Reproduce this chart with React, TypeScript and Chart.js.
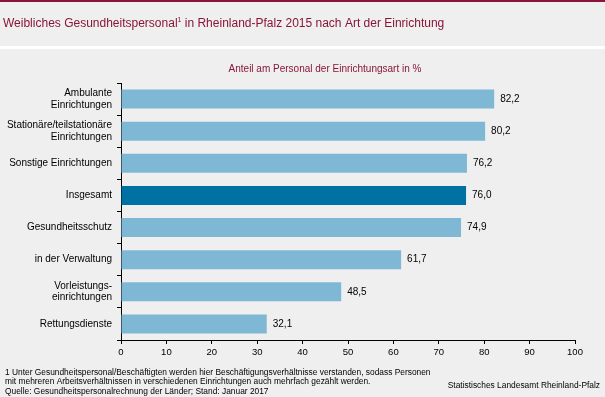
import React, { useEffect, useRef } from "react";
import { Chart, registerables } from "chart.js";

Chart.register(...registerables);

const categories: (string | string[])[] = [
  ["Ambulante", "Einrichtungen"],
  ["Stationäre/teilstationäre", "Einrichtungen"],
  "Sonstige Einrichtungen",
  "Insgesamt",
  "Gesundheitsschutz",
  "in der Verwaltung",
  ["Vorleistungs-", "einrichtungen"],
  "Rettungsdienste",
];
const values = [82.2, 80.2, 76.2, 76.0, 74.9, 61.7, 48.5, 32.1];
const highlight = [false, false, false, true, false, false, false, false];

const titleMain = "Weibliches Gesundheitspersonal";
const titleSup = "1";
const titleRest = " in Rheinland-Pfalz 2015 nach Art der Einrichtung";
const subtitle = "Anteil am Personal der Einrichtungsart in %";
const footnotes = [
  "1 Unter Gesundheitspersonal/Beschäftigten werden hier Beschäftigungsverhältnisse verstanden, sodass Personen",
  "mit mehreren Arbeitsverhältnissen in verschiedenen Einrichtungen auch mehrfach gezählt werden.",
  "Quelle: Gesundheitspersonalrechnung der Länder; Stand: Januar 2017",
];
const credit = "Statistisches Landesamt Rheinland-Pfalz";

const FONT = "Arial, 'Liberation Sans', sans-serif";
const RED = "#8a1538";
const BG = "#eeefee";
const LIGHT = "#7fb8d4";
const DARK = "#0071a3";

const decor = {
  id: "decor",
  beforeDraw(chart: any) {
    const ctx = chart.ctx;
    const w = chart.width;
    const h = chart.height;
    ctx.save();
    ctx.fillStyle = "#ffffff";
    ctx.fillRect(0, 0, w, h);
    ctx.fillStyle = BG;
    ctx.fillRect(0, 0, w, 46);
    ctx.fillRect(0, 49, w, h - 49);
    ctx.fillStyle = RED;
    ctx.fillRect(0, 0, w, 2);
    // title
    ctx.fillStyle = RED;
    ctx.textBaseline = "alphabetic";
    ctx.textAlign = "left";
    ctx.font = `12px ${FONT}`;
    let x = 3;
    ctx.fillText(titleMain, x, 27);
    x += ctx.measureText(titleMain).width;
    ctx.font = `7px ${FONT}`;
    ctx.fillText(titleSup, x, 22);
    x += ctx.measureText(titleSup).width;
    ctx.font = `12px ${FONT}`;
    ctx.fillText(titleRest, x, 27);
    // subtitle
    ctx.font = `10px ${FONT}`;
    ctx.textAlign = "center";
    ctx.textBaseline = "middle";
    ctx.fillText(subtitle, 325, 69);
    // footnotes
    ctx.fillStyle = "#000000";
    ctx.font = `8.4px ${FONT}`;
    ctx.textAlign = "left";
    const ys = [373, 382, 392];
    footnotes.forEach((t, i) => ctx.fillText(t, 5, ys[i]));
    ctx.textAlign = "right";
    ctx.fillText(credit, 600, 386);
    ctx.restore();
  },
  afterDatasetsDraw(chart: any) {
    const ctx = chart.ctx;
    const meta = chart.getDatasetMeta(0);
    ctx.save();
    ctx.fillStyle = "#000000";
    ctx.font = `10px ${FONT}`;
    ctx.textAlign = "left";
    ctx.textBaseline = "middle";
    meta.data.forEach((bar: any, i: number) => {
      const v = values[i].toFixed(1).replace(".", ",");
      ctx.fillText(v, bar.x + 6, bar.y);
    });
    ctx.restore();
  },
};

export default function App() {
  const ref = useRef<HTMLCanvasElement>(null);
  useEffect(() => {
    const chart = new Chart(ref.current!, {
      type: "bar",
      data: {
        labels: categories,
        datasets: [
          {
            data: values,
            backgroundColor: highlight.map((h) => (h ? DARK : LIGHT)),
            barPercentage: 0.59,
            categoryPercentage: 1,
            borderWidth: 0,
          },
        ],
      },
      options: {
        indexAxis: "y",
        animation: false,
        responsive: false,
        maintainAspectRatio: false,
        devicePixelRatio: 1,
        layout: { padding: { top: 83, right: 30, left: 0, bottom: 0 } },
        plugins: {
          legend: { display: false },
          tooltip: { enabled: false },
          title: { display: false },
        },
        scales: {
          x: {
            min: 0,
            max: 100,
            afterFit(scale: any) {
              scale.height = 57;
            },
            ticks: {
              stepSize: 10,
              color: "#000000",
              font: { family: FONT, size: 9.5 },
              padding: 3,
              maxRotation: 0,
            },
            grid: {
              drawOnChartArea: false,
              drawTicks: true,
              tickLength: 4,
              color: "#000000",
            },
            border: { color: "#000000", width: 1 },
          },
          y: {
            afterFit(scale: any) {
              scale.width = 121;
            },
            ticks: {
              color: "#000000",
              font: { family: FONT, size: 10, lineHeight: 1.15 },
              padding: 5,
              autoSkip: false,
            },
            grid: {
              offset: true,
              drawOnChartArea: false,
              drawTicks: true,
              tickLength: 4,
              color: "#000000",
            },
            border: { color: "#000000", width: 1 },
          },
        },
      },
      plugins: [decor],
    });
    return () => chart.destroy();
  }, []);
  return (
    <div style={{ position: "fixed", left: 0, top: 0, width: 605, height: 397 }}>
      <canvas ref={ref} width={605} height={397} style={{ width: 605, height: 397 }} />
    </div>
  );
}
